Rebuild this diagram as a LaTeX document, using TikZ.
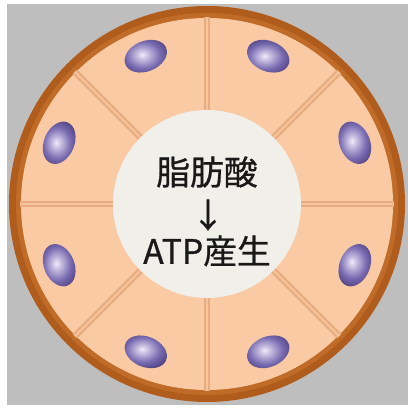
\documentclass[tikz,border=0pt]{standalone}
\usepackage{fontspec}
\newfontfamily\jpfont[FakeBold=0.8]{Noto Sans CJK JP}
\usetikzlibrary{shapes.geometric,calc}

\definecolor{bggray}{RGB}{190,190,190}
\definecolor{wallbrown}{RGB}{176,92,28}
\definecolor{wallbrownlight}{RGB}{192,108,40}
\definecolor{cellpeach}{RGB}{249,202,164}
\definecolor{cellline}{RGB}{232,172,128}
\definecolor{lumencream}{RGB}{241,239,233}
\definecolor{nucleuslight}{RGB}{240,236,250}
\definecolor{nucleusmid}{RGB}{120,106,176}
\definecolor{nucleusdark}{RGB}{66,52,112}

% soft rim where the lumen meets the cells
\pgfdeclareradialshading{lumenglow}{\pgfpoint{0bp}{0bp}}{%
  color(0bp)=(lumencream); color(40bp)=(lumencream);
  color(45bp)=(lumencream!60!cellpeach); color(50bp)=(cellpeach)}
% glossy nucleus
\pgfdeclareradialshading{nucleusshade}{\pgfpoint{-4bp}{2bp}}{%
  color(0bp)=(nucleuslight); color(5bp)=(nucleuslight!70!nucleusmid);
  color(18bp)=(nucleusmid); color(32bp)=(nucleusdark); color(60bp)=(nucleusdark)}

\tikzset{
  nucleus/.style={ellipse, minimum width=1.1cm, minimum height=0.76cm,
    inner sep=0pt, shading=nucleusshade},
  divider/.style={line width=0.16cm, draw=cellline},
  dividercore/.style={line width=0.05cm, draw=cellpeach!80!cellline},
  label/.style={font=\jpfont\fontsize{24}{28}\selectfont, text=black!90, inner sep=0pt}
}

\begin{document}
\begin{tikzpicture}[x=0.025cm, y=0.025cm]
  \useasboundingbox (0,0) rectangle (408,408);
  \fill[white] (0,0) rectangle (408,408);
  \fill[bggray] (7,3) rectangle (408,404);

  \coordinate (c) at (207,204);

  % tubule wall and cell layer
  \fill[wallbrown] (c) circle (198);
  \fill[wallbrownlight] (c) circle (191);
  \fill[cellpeach] (c) circle (186);

  % cell borders
  \foreach \a in {0,45,...,315} {
    \draw[divider] ($(c)+(\a:80)$) -- ($(c)+(\a:187)$);
    \draw[dividercore] ($(c)+(\a:80)$) -- ($(c)+(\a:187)$);
  }

  % lumen
  \shade[shading=lumenglow] (c) circle (94);

  % nuclei, one per cell
  \foreach \a [count=\i] in {22.5,67.5,...,337.5} {
    \node[nucleus, rotate=\a+90] (n\i) at ($(c)+(\a:160)$) {};
  }

  % labels
  \node[label] (fa) at (207,236) {脂肪酸};
  \node[label] (arr) at (208,193) {↓};
  \node[label] (atp) at (207,157) {ATP産生};
\end{tikzpicture}
\end{document}
